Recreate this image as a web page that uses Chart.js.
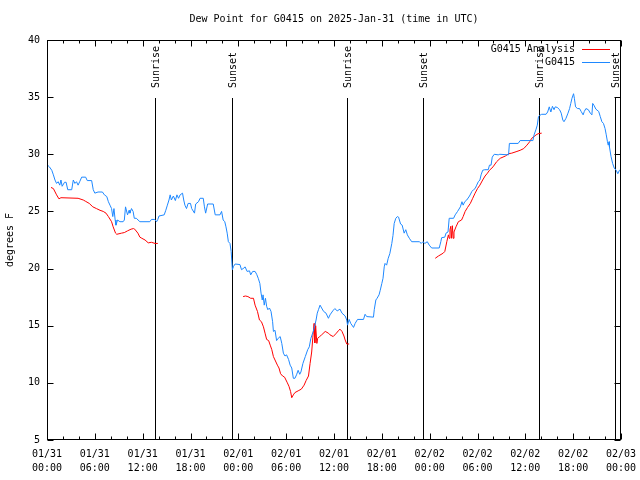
<!DOCTYPE html>
<html><head><meta charset="utf-8">
<script src="https://cdn.jsdelivr.net/npm/chart.js@4/dist/chart.umd.min.js"></script>
<style>html,body{margin:0;padding:0;background:#fff}</style>
</head><body>
<canvas id="c" width="640" height="480"></canvas>
<script>
const titleText = 'Dew Point for G0415 on 2025-Jan-31 (time in UTC)';
const yAxisLabel = 'degrees F';
const seriesNames = ['G0415 Analysis', 'G0415'];
const xTickLabels = [['01/31','00:00'],['01/31','06:00'],['01/31','12:00'],['01/31','18:00'],
  ['02/01','00:00'],['02/01','06:00'],['02/01','12:00'],['02/01','18:00'],
  ['02/02','00:00'],['02/02','06:00'],['02/02','12:00'],['02/02','18:00'],['02/03','00:00']];
// hours since 2025-01-31 00:00 UTC
const obsHours = [0.0,0.3,0.6,0.8,1.0,1.2,1.4,1.6,1.75,1.9,2.2,2.4,2.6,3.1,3.3,3.5,3.7,3.9,4.1,4.35,4.85,5.05,5.6,5.8,6.0,6.4,6.95,7.2,7.5,7.7,7.9,8.1,8.25,8.4,8.55,8.65,8.85,9.15,9.55,9.7,9.85,10.1,10.3,10.4,10.6,10.8,10.95,11.2,11.65,12.9,13.1,13.5,13.75,13.9,14.05,14.7,14.9,15.1,15.3,15.45,15.6,15.85,16.1,16.3,16.5,16.7,17.0,17.15,17.3,17.5,17.7,18.0,18.15,18.5,18.65,19.0,19.2,19.6,19.75,19.9,20.15,20.85,21.1,21.7,21.9,22.1,22.3,22.45,22.6,22.75,22.95,23.1,23.25,23.4,23.6,24.2,24.4,24.7,24.85,25.1,25.4,25.55,25.8,26.1,26.3,26.5,26.7,26.85,27.0,27.1,27.25,27.4,27.55,27.7,27.9,28.1,28.3,28.4,28.6,28.8,29.0,29.25,29.45,29.65,29.85,30.05,30.3,30.5,30.7,30.9,31.1,31.3,31.5,31.7,31.85,32.1,32.4,32.7,32.9,33.1,33.4,33.6,33.75,33.9,34.05,34.25,34.45,34.7,35.0,35.3,35.5,35.85,36.1,36.4,36.75,37.0,37.4,37.6,37.7,37.9,38.1,38.45,38.65,38.95,39.7,39.9,40.1,40.95,41.05,41.25,41.4,41.65,41.8,42.0,42.15,42.3,42.4,42.6,42.8,43.0,43.25,43.4,43.55,43.75,43.95,44.1,44.35,44.55,44.8,45.0,45.2,45.45,45.75,46.7,46.95,47.15,47.4,47.7,47.95,48.25,49.2,49.4,49.5,49.9,50.05,50.3,50.45,51.0,51.2,51.5,51.85,52.05,52.2,52.4,52.65,53.0,53.3,53.5,53.7,53.9,54.1,54.3,54.45,54.65,54.9,55.35,55.5,55.7,55.85,56.1,56.6,56.8,57.9,58.0,59.1,59.35,60.95,61.1,61.35,61.5,61.65,61.8,62.05,62.6,62.8,63.0,63.2,63.4,63.6,63.75,64.0,64.3,64.5,64.7,64.85,65.1,65.35,65.55,65.7,65.85,66.05,66.15,66.3,66.55,66.8,67.0,67.25,67.4,67.6,67.9,68.15,68.35,68.45,68.6,68.85,69.2,69.4,69.6,69.8,70.0,70.15,70.3,70.4,70.5,70.55,70.75,70.95,71.15,71.4,71.6,71.8,71.95];
const obsDewF = [29.1,28.9,28.6,28.2,27.75,27.45,27.6,27.3,27.75,27.2,27.55,27.55,26.9,26.9,27.75,27.45,27.6,27.3,27.6,28.0,28.0,27.7,27.7,26.9,26.6,26.7,26.7,26.45,26.3,25.85,25.55,25.25,24.55,25.25,24.25,23.8,24.25,24.1,24.1,24.25,25.4,24.7,25.1,24.85,25.25,25.0,24.4,24.4,24.1,24.1,24.3,24.3,24.1,24.3,24.6,24.7,25.1,25.55,26.0,26.45,26.0,26.35,25.95,26.45,26.15,26.45,26.6,26.0,25.55,25.25,25.7,25.7,25.25,24.85,25.65,25.85,26.15,26.15,25.4,24.85,25.65,25.65,24.7,24.7,25.0,24.25,24.1,23.65,23.1,22.35,22.2,21.5,19.9,20.2,20.4,20.35,19.9,20.05,20.15,19.75,19.8,19.45,19.75,19.75,19.5,19.15,18.7,17.85,17.25,17.7,16.8,17.4,16.7,16.4,16.55,16.25,15.35,14.5,14.6,13.7,13.9,14.05,13.45,12.6,12.35,12.45,12.05,11.55,11.3,10.4,10.4,10.7,11.1,10.75,10.95,11.7,12.3,12.9,13.15,13.9,14.5,15.05,15.5,16.1,16.4,16.8,16.55,16.25,16.1,15.65,15.95,16.3,16.5,16.3,16.45,16.1,15.85,15.5,15.05,15.55,15.2,14.85,15.2,15.55,15.55,16.0,15.8,15.75,16.4,17.25,17.4,17.7,18.1,18.7,19.15,20.15,20.45,20.3,20.9,21.3,22.2,22.9,23.95,24.4,24.55,24.5,23.9,23.8,23.1,23.4,22.95,22.65,22.35,22.35,22.2,22.35,22.2,22.35,22.05,21.8,21.8,22.35,22.7,22.75,23.1,23.2,24.4,24.4,24.7,25.0,25.4,25.85,25.55,25.85,26.0,26.35,26.75,26.9,27.0,27.3,27.6,27.75,28.2,28.6,28.65,28.65,29.05,29.05,29.75,30.0,29.95,30.0,29.95,30.95,30.95,31.2,31.2,31.7,32.2,32.55,33.3,33.4,33.5,33.5,33.7,34.15,33.7,34.2,33.9,34.15,34.1,33.9,33.6,33.0,32.85,33.15,33.6,34.0,34.45,34.9,35.3,34.9,34.15,34.0,34.0,33.75,33.45,33.75,34.0,33.9,33.6,33.45,34.45,34.3,33.95,33.75,33.3,32.85,32.7,32.25,31.7,31.1,30.8,31.1,30.65,29.8,29.2,28.8,28.6,28.3,28.6,28.6];
const anaHours = [0.5,0.8,1.2,1.5,1.75,3.9,4.55,4.8,5.3,5.75,6.2,6.65,7.05,7.4,7.7,8.1,8.3,8.6,8.75,9.35,9.7,10.1,10.55,10.85,11.0,11.4,11.65,11.9,12.3,12.7,13.1,13.55,13.9,
  19.0,
  24.6,24.9,25.2,25.55,25.9,26.1,26.4,26.65,26.9,27.15,27.35,27.55,27.8,28.0,28.2,28.4,28.6,28.9,29.1,29.3,29.55,29.8,30.15,30.35,30.55,30.7,30.9,31.1,31.5,31.9,32.25,32.5,32.8,33.0,33.2,33.35,33.5,33.6,33.7,33.85,33.95,34.2,34.45,34.9,35.3,35.5,35.9,36.3,36.6,36.75,37.0,37.25,37.4,37.6,37.9,
  43.0,
  48.7,49.1,49.7,49.9,50.15,50.35,50.45,50.55,50.65,50.75,50.85,50.95,51.05,51.3,51.6,52.0,52.2,52.45,52.75,53.1,53.4,53.7,54.0,54.3,54.65,54.95,55.25,55.5,55.95,56.4,56.85,57.5,57.9,58.3,58.95,59.35,59.8,60.2,60.55,60.8,61.1,61.35,61.6,62.05];
const anaDewF = [27.1,27.0,26.45,26.1,26.2,26.15,26.0,25.9,25.7,25.4,25.25,25.1,25.0,24.85,24.55,24.1,23.65,23.1,23.0,23.1,23.15,23.3,23.45,23.5,23.45,23.1,22.75,22.65,22.5,22.25,22.3,22.2,22.2,
  null,
  17.55,17.6,17.55,17.4,17.4,16.8,16.25,15.5,15.35,14.9,14.35,13.8,13.7,13.3,12.9,12.3,12.0,11.55,11.3,10.8,10.6,10.5,10.0,9.7,9.25,8.7,8.95,9.15,9.3,9.45,9.8,10.2,10.6,11.7,12.7,14.0,15.2,13.5,15.0,13.45,13.9,14.05,14.2,14.5,14.35,14.2,14.05,14.35,14.6,14.7,14.5,14.1,13.75,13.4,13.4,
  null,
  20.9,21.1,21.35,21.5,22.35,22.95,22.65,23.4,23.7,22.65,23.75,22.65,23.2,23.65,24.1,24.25,24.55,25.0,25.35,25.7,26.15,26.6,27.0,27.3,27.75,28.1,28.35,28.6,28.9,29.35,29.65,29.85,30.05,30.1,30.25,30.35,30.5,30.8,31.1,31.4,31.55,31.7,31.8,31.85];
const sunHours = [13.55, 23.2, 37.63, 47.16, 61.72, 71.25];
const sunLabels = ['Sunrise','Sunset','Sunrise','Sunset','Sunrise','Sunset'];

const FONT = "'DejaVu Sans Mono', 'Liberation Mono', monospace";
const toXY = (xs, ys) => xs.map((h, i) => ({x: h, y: ys[i]}));
const seriesColors = ['#ff0000', '#1e88ff'];

const gnuplotDecor = {
  id: 'gnuplotDecor',
  beforeDatasetsDraw(chart) {
    const {ctx, chartArea: a, scales: {x}} = chart;
    const hgt = a.bottom - a.top;
    ctx.save();
    ctx.strokeStyle = '#000'; ctx.lineWidth = 1; ctx.fillStyle = '#000';
    ctx.font = '10px ' + FONT;
    sunHours.forEach((h, i) => {
      const px = Math.round(x.getPixelForValue(h)) + 0.5;
      ctx.beginPath(); ctx.moveTo(px, a.bottom); ctx.lineTo(px, a.top + 0.145 * hgt); ctx.stroke();
      ctx.save();
      ctx.translate(px + 1, a.top + 0.12 * hgt);
      ctx.rotate(-Math.PI / 2);
      ctx.textAlign = 'left'; ctx.textBaseline = 'middle';
      ctx.fillText(sunLabels[i], 0, 0);
      ctx.restore();
    });
    ctx.restore();
  },
  afterDraw(chart) {
    const {ctx, chartArea: a, scales: {x, y}} = chart;
    ctx.save();
    ctx.strokeStyle = '#000'; ctx.lineWidth = 1;
    const L = Math.round(a.left) + 0.5, R = Math.round(a.right) - 0.5;
    const T = Math.round(a.top) + 0.5, B = Math.round(a.bottom) - 0.5;
    ctx.strokeRect(L, T, R - L, B - T);
    ctx.beginPath();
    for (let h = x.min; h <= x.max; h += 2) {
      const px = Math.round(x.getPixelForValue(h)) + 0.5;
      const len = (h % 6 === 0) ? 6 : 3;
      ctx.moveTo(px, B); ctx.lineTo(px, B - len);
      ctx.moveTo(px, T); ctx.lineTo(px, T + len);
    }
    y.ticks.forEach(t => {
      const py = Math.round(y.getPixelForValue(t.value)) + 0.5;
      ctx.moveTo(L, py); ctx.lineTo(L + 6, py);
      ctx.moveTo(R, py); ctx.lineTo(R - 6, py);
    });
    ctx.stroke();
    // legend
    ctx.font = '10px ' + FONT; ctx.fillStyle = '#000';
    ctx.textAlign = 'right'; ctx.textBaseline = 'middle';
    chart.data.datasets.forEach((ds, i) => {
      const ty = a.top + 9.5 + i * 13;
      ctx.fillText(ds.label, a.right - 46, ty);
      ctx.strokeStyle = ds.borderColor;
      ctx.beginPath(); ctx.moveTo(a.right - 39, Math.round(ty) - 0.5); ctx.lineTo(a.right - 11, Math.round(ty) - 0.5); ctx.stroke();
    });
    ctx.restore();
  }
};

new Chart(document.getElementById('c'), {
  type: 'line',
  data: {
    datasets: [
      {label: seriesNames[0], data: toXY(anaHours, anaDewF), borderColor: seriesColors[0], borderWidth: 1, pointRadius: 0, tension: 0, spanGaps: false, order: 1},
      {label: seriesNames[1], data: toXY(obsHours, obsDewF), borderColor: seriesColors[1], borderWidth: 1, pointRadius: 0, tension: 0, spanGaps: false, order: 0}
    ]
  },
  options: {
    responsive: false,
    animation: false,
    devicePixelRatio: 1,
    layout: {padding: {left: 0, right: 19, top: 0, bottom: 0}},
    plugins: {
      legend: {display: false},
      tooltip: {enabled: false},
      title: {display: true, fullSize: false, text: titleText, color: '#000',
        font: {family: FONT, size: 10, weight: 'normal', lineHeight: 1.2},
        padding: {top: 13, bottom: 15}}
    },
    scales: {
      x: {
        type: 'linear', min: 0, max: 72,
        grid: {display: false, drawTicks: false},
        border: {display: false},
        ticks: {stepSize: 6, autoSkip: false, maxRotation: 0, padding: 7, color: '#000',
          font: {family: FONT, size: 10, lineHeight: 1.4},
          callback: v => xTickLabels[Math.round(v / 6)]},
        afterFit: s => { s.height = 40; s.paddingRight = 0; s.paddingLeft = 0; }
      },
      y: {
        min: 5, max: 40,
        grid: {display: false, drawTicks: false},
        border: {display: false},
        ticks: {stepSize: 5, padding: 7, color: '#000', font: {family: FONT, size: 10}},
        title: {display: true, text: yAxisLabel, color: '#000', font: {family: FONT, size: 10}, padding: {top: 4, bottom: 4}},
        afterFit: s => { s.width = 47; }
      }
    }
  },
  plugins: [gnuplotDecor]
});
</script>
</body></html>
